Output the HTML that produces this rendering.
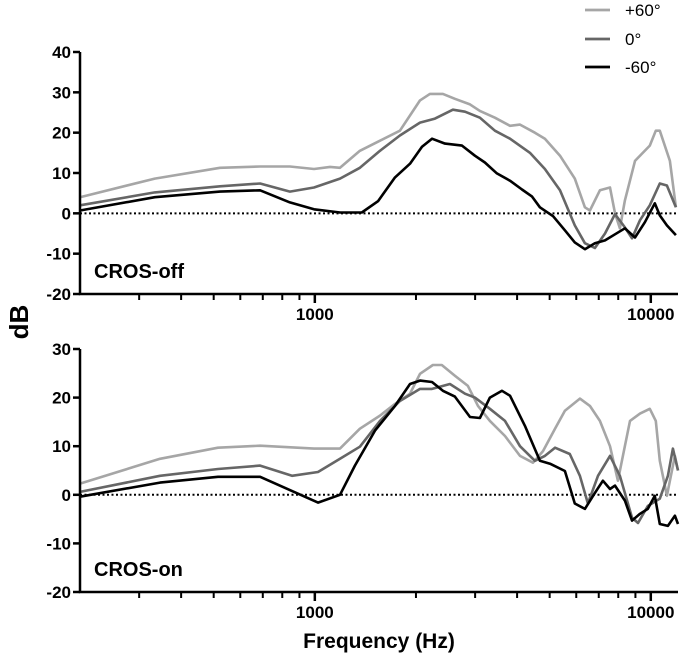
<!DOCTYPE html>
<html><head><meta charset="utf-8"><style>
html,body{margin:0;padding:0;background:#fff;}
svg{display:block;font-family:"Liberation Sans",Arial,sans-serif;}
</style></head><body>
<svg id="chart" width="680" height="657" viewBox="0 0 680 657"></svg>
<script>
// ---- data ----
const topLightF=[200,334,522,687,843,994,1110,1188,1362,1563,1792,2056,2200,2406,2612,2896,3100,3436,3810,4080,4520,4840,5368,5940,6368,6590,7056,7560,7824,8092,8376,8974,9932,10352,10640,11400,11880];
const topLightV=[4,8.6,11.3,11.6,11.6,11,11.5,11.3,15.5,18,20.5,28,29.6,29.6,28.4,27,25.4,23.7,21.7,22,20,18.5,14.3,8.6,1.5,0.7,5.7,6.4,0,-3.7,3.2,13,16.8,20.5,20.5,13,1.5];
const topMidF=[200,334,522,687,843,994,1188,1362,1563,1792,2056,2278,2576,2798,3100,3436,3810,4368,4840,5368,5940,6368,6820,7304,7824,8376,8790,9284,9932,10640,11170,11880];
const topMidV=[2,5.2,6.7,7.4,5.4,6.4,8.6,11.3,15.5,19.3,22.5,23.5,25.7,25.2,23.7,20.5,18.5,15,11,5.7,-3,-7.4,-8.6,-5,-0.2,-3.5,-6.2,-1.7,2,7.4,6.9,1.5];
const topDarkF=[200,334,522,687,843,994,1188,1380,1542,1732,1920,2084,2232,2440,2742,2996,3208,3484,3810,4136,4428,4678,5120,5550,5940,6368,6820,7304,7824,8376,8974,9606,10280,10640,11170,11880];
const topDarkV=[0.7,4,5.4,5.7,2.7,1,0.2,0.2,3,8.9,12.3,16.5,18.5,17.3,16.8,14.3,12.6,9.9,8.1,5.9,4.2,1.5,-0.7,-4.2,-7.2,-8.9,-7.4,-6.7,-5.2,-3.7,-6,-2.2,2.5,-0.5,-3,-5.4];
const botLightF=[200,346,515,687,994,1188,1362,1563,1732,1920,2056,2246,2388,2612,2856,3060,3320,3682,4080,4460,4776,5186,5550,6152,6590,7056,7560,7980,8260,8670,9284,9932,10352,10640,11170,11800,12050];
const botLightV=[2.3,7.4,9.7,10.1,9.5,9.5,13.6,16.3,18.7,20.8,24.9,26.7,26.7,24.5,22.4,18.3,15.2,12.1,8,6.6,9,13.6,17.3,19.8,18.3,15.2,10,2.9,8,15.2,16.7,17.7,15.2,7,-0.2,8,5];
const botMidF=[200,346,515,687,855,1022,1188,1362,1563,1792,2056,2232,2524,2798,2996,3320,3682,4080,4520,4840,5186,5742,6152,6500,6962,7560,8092,8790,9160,9796,10640,11246,11640,12050];
const botMidV=[0.6,3.9,5.3,6,3.9,4.7,7.4,9.9,15.2,19.3,21.8,21.8,22.8,20.8,20,17.7,15.2,10,7,8,9.7,8.4,3.9,-1.8,3.9,8,3.9,-4.7,-5.8,-2.3,-0.8,3.9,9.5,5];
const botDarkF=[200,346,515,687,1022,1188,1316,1510,1732,1920,2056,2232,2406,2612,2896,3100,3320,3606,3810,4220,4678,5012,5550,5940,6368,6820,7204,7560,7824,8376,8790,9284,9796,10280,10640,11246,11800,12050];
const botDarkV=[-0.4,2.5,3.7,3.7,-1.6,0,6,13.2,18.3,22.8,23.5,23.2,21.4,20.2,16,15.8,20,21.4,20.4,14.2,7,6.4,4.9,-1.8,-2.9,0.4,2.9,1.2,1.9,-1.2,-5.3,-3.9,-2.9,-0.2,-6,-6.4,-4.3,-6];
const yTicksTop=[40,30,20,10,0,-10,-20];
const yTicksBot=[30,20,10,0,-10,-20];
const minorF=[300,400,500,600,700,800,900,2000,3000,4000,5000,6000,7000,8000,9000];
const majorF=[1000,10000];
const majorLabels=["1000","10000"];
const legendLabels=["+60°","0°","-60°"];

const NS="http://www.w3.org/2000/svg";
const svg=document.getElementById('chart');
function mk(t,a,p){const e=document.createElementNS(NS,t);for(const k in a)e.setAttribute(k,a[k]);(p||svg).appendChild(e);return e;}
const X0=80,X1=678,FMIN=200,FMAX=12050;
function xs(f){return X0+(Math.log10(f)-Math.log10(FMIN))/(Math.log10(FMAX)-Math.log10(FMIN))*(X1-X0);}
const colors=["#a6a6a6","#666666","#000000"];

function panel(name,yTop,yBot,vMax,vMin,ticks,series,label,labelY){
  const g=mk('g',{});
  
  
  const ys=v=>yTop+(vMax-v)/(vMax-vMin)*(yBot-yTop);
  const z=mk('line',{x1:X0,x2:X1,y1:ys(0),y2:ys(0),stroke:'#000','stroke-width':2,'stroke-dasharray':'2,2.5'},g);
  
  
  series.forEach((s,i)=>{
    const d=s[0].map((f,j)=>(j?'L':'M')+xs(f).toFixed(1)+','+ys(s[1][j]).toFixed(1)).join(' ');
    const p=mk('path',{d:d,fill:'none',stroke:colors[i],'stroke-width':2.6,'stroke-linejoin':'round'},g);
    
    
  });
  const ax=mk('path',{d:`M${X0},${yTop} L${X0},${yBot} L${X1},${yBot}`,fill:'none',stroke:'#000','stroke-width':2.5},g);
  
  
  ticks.forEach(v=>{
    mk('line',{x1:X0-7,x2:X0,y1:ys(v),y2:ys(v),stroke:'#000','stroke-width':2.5},g);
    const t=mk('text',{x:X0-9,y:ys(v)+6,'text-anchor':'end','font-size':17,'font-weight':'bold'},g);
    t.textContent=v;
    
    
  });
  minorF.forEach(f=>mk('line',{x1:xs(f),x2:xs(f),y1:yBot,y2:yBot+6,stroke:'#000','stroke-width':2},g));
  majorF.forEach((f,i)=>{
    mk('line',{x1:xs(f),x2:xs(f),y1:yBot,y2:yBot+9,stroke:'#000','stroke-width':2.5},g);
    const t=mk('text',{x:xs(f),y:yBot+26,'text-anchor':'middle','font-size':17,'font-weight':'bold'},g);
    t.textContent=majorLabels[i];
    
    
  });
  const l=mk('text',{x:94,y:labelY,'font-size':20,'font-weight':'bold'},g);
  l.textContent=label;
  
  
}
panel('panel-cros-off',52,294,40,-20,yTicksTop,[[topLightF,topLightV],[topMidF,topMidV],[topDarkF,topDarkV]],'CROS-off',278);
panel('panel-cros-on',349,592,30,-20,yTicksBot,[[botLightF,botLightV],[botMidF,botMidV],[botDarkF,botDarkV]],'CROS-on',576);

const legY=[10,39,67];
legendLabels.forEach((s,i)=>{
  const ln=mk('line',{x1:585,x2:610,y1:legY[i],y2:legY[i],stroke:colors[i],'stroke-width':2.8});
  
  
  const t=mk('text',{x:625,y:legY[i]+6,'font-size':17});
  t.textContent=s;
  
  
});
const yt=mk('text',{x:0,y:0,'font-size':26,'font-weight':'bold','text-anchor':'middle',transform:'translate(28,322) rotate(-90)'});
yt.textContent='dB';


const xt=mk('text',{x:379,y:648,'font-size':21,'font-weight':'bold','text-anchor':'middle'});
xt.textContent='Frequency (Hz)';


</script>
</body></html>
